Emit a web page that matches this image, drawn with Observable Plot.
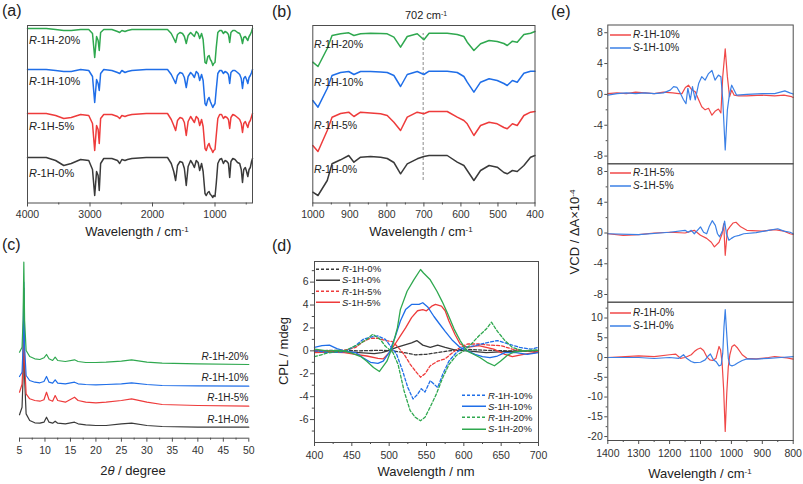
<!DOCTYPE html>
<html>
<head>
<meta charset="utf-8">
<script src="https://cdn.jsdelivr.net/npm/d3@7"></script>
<script src="https://cdn.jsdelivr.net/npm/@observablehq/plot@0.6"></script>
<style>
html,body{margin:0;padding:0;background:#fff;}
#fig{position:relative;width:803px;height:484px;overflow:hidden;font-family:"Liberation Sans",Arial,Helvetica,sans-serif;color:#222;}
#fig .t{position:absolute;white-space:nowrap;line-height:1;}
#fig sup{font-size:0.62em;position:relative;top:-0.5em;vertical-align:baseline;line-height:0;}
</style>
</head>
<body>
<div id="fig"></div>
<script>
// ================= DATA =================
// (a) FTIR, wavenumber (cm-1) and relative transmittance (a.u.)
const ftirWn = [4000,3700,3550,3420,3300,3150,3020,2960,2925,2895,2870,2852,2830,2780,2650,2560,2525,2490,2440,2400,2330,2100,1760,1700,1660,1630,1600,1560,1520,1490,1460,1430,1390,1360,1330,1300,1270,1245,1215,1190,1160,1140,1115,1095,1075,1055,1035,1020,1000,980,955,925,895,865,840,810,785,765,745,715,680,640,605,580,560,540,515,495,475,455,435,415,400];
const ftir0  = [44,44,41,36,38,42,41,32,6,30,26,11,38,43,43,41,38,42,41,42,43,44,44,38,30,21,36,40,39,33,16,35,41,38,34,41,39,31,38,30,8,6,9,10,7,6,4,6,5,18,38,42,43,38,41,40,38,24,40,43,42,39,38,32,19,32,34,30,25,32,34,40,43];
const ftir5  = [44,44,42,39,40,43,42,34,7,32,28,14,39,43,43,41,39,42,41,42,43,44,44,38,32,27,37,40,39,35,22,36,41,38,35,41,39,32,38,31,9,7,12,14,10,8,5,7,8,22,39,43,43,39,41,40,38,29,40,43,42,40,38,34,25,34,36,33,30,35,37,41,44];
const ftir10 = [44,44,43,42,42,44,43,37,11,34,30,23,40,44,43,41,40,43,41,42,43,44,44,39,34,30,38,41,40,36,26,37,41,39,36,42,40,33,39,33,10,8,14,16,12,9,6,8,10,24,40,43,43,40,42,41,39,30,41,43,43,41,39,35,25,35,37,34,30,36,38,41,44];
const ftir20 = [45,45,44,43,43,44,44,40,16,37,33,23,41,44,44,42,41,43,42,43,44,44,44,40,35,31,39,41,40,37,30,38,41,39,37,42,40,35,40,34,11,10,17,18,14,12,8,10,11,26,41,43,43,40,42,41,39,31,41,43,43,41,40,36,30,36,37,35,33,37,39,42,45];
const ftirNames = ["R-1H-0%","R-1H-5%","R-1H-10%","R-1H-20%"];
const ftirOffsets = [0,44,88,128];
const ftirTicks = [4000,3000,2000,1000];
const ftirMinor = [3500,2500,1500,500];

// (b) FTIR 1000-400 cm-1
const zWn  = [1000,986,961,948,925,903,889,871,844,817,799,781,763,745,718,700,686,637,610,592,583,565,547,524,502,484,475,461,448,430,412,400];
const z0   = [10,6.7,21.7,38.4,42.4,46.7,40,45,45.7,45,43.7,39.7,28.4,38.4,43.4,45.7,46.7,46.7,40,36.7,31.7,21.7,31.7,36.7,35,29.7,28.4,31.7,30.7,36.7,45,46.7];
const z5   = [16.7,10.7,31.7,45,48.7,50,45.7,50,49.2,48.4,46.7,40,31.7,45,50,48.4,50.7,50.7,45,41.7,38.4,26.7,36.7,40,38.4,34.7,33.4,38.4,36.7,46.7,50,50.7];
const z10  = [21.7,15,33.7,46.7,49.7,50.7,47.7,50.7,50.7,50.2,49.7,46.7,35.7,47.7,50.7,47.7,51,51,49.7,45.7,40,30,40,43.4,41.7,38.7,36.7,41.7,40,49,51,51];
const z20  = [20,15.7,33.7,46.7,48.4,49.4,46.7,48.4,49,48.7,48.4,45,35,45.7,48.4,42.4,49,49,47.7,45.7,40,31.7,38.4,41.7,40.7,38.7,36.7,41,40,47.7,49,50.7];
const zOffsets = [0,40,80,120];
const zTicks = [1000,900,800,700,600,500,400];
const zMinor = [950,850,750,650,550,450];
const markWn = 702;
const markSpan = [21.7,168.7];

// (c) PXRD
const xrd2t = [5,5.5,5.7,5.85,6.0,6.3,7,8,9,9.8,10.3,10.8,11.5,12,12.5,14,15.8,16.5,18,20,22,25,27,30,33,40,50];
const xrd0  = [23.4,31,60,150,60,24.3,17.7,15.4,15,16,21,16,15,17,15,14.4,16,14.4,13.4,12.7,12.7,14.4,15,12.7,11.7,11,11];
const xrd5  = [25,33,55,115,55,23.4,18.4,16.7,16,17.4,25,17.4,16,21.7,16.7,15,20,16.7,15,14.4,15,16.7,18.4,15,12.7,11.7,11];
const xrd10 = [20.7,25,50,115,50,21.7,16.7,15,14.4,15.7,20.7,15,14,17.4,14,13.4,15,13.4,12.7,12.4,12.7,13.4,14.4,12.7,11.7,11.4,11];
const xrd20 = [23,28,55,113,55,24.7,18.7,16.4,15.7,17.4,20.7,16.4,14.7,18,14.7,13.7,15.4,13.7,12.7,12.7,13,14,15.4,13,12,11.4,10.7];
const xrdOffsets = [0,21,41,63];
const xrdTicks = [5,10,15,20,25,30,35,40,45,50];
const xrdMinor = [7.5,12.5,17.5,22.5,27.5,32.5,37.5,42.5,47.5];

// (d) CPL (mdeg) vs wavelength (nm)
const cplWlR0 = [400,430,460,490,505,520,535,550,565,580,600,630,660,700];
const cplR0   = [0,0.05,0,0.05,0,-0.15,-0.35,-0.3,-0.15,0,0.15,0.05,0,0];
const cplWlS0 = [400,430,460,480,490,500,510,520,530,537,545,555,565,575,590,605,630,660,700];
const cplS0   = [0,-0.05,-0.15,-0.25,-0.15,0.05,0.3,0.5,0.7,0.9,0.5,0.3,0.5,0.3,0.05,0,-0.15,-0.05,0];
const cplWlR5 = [400,420,440,455,465,475,485,495,505,512,520,528,535,542,548,555,565,575,585,595,605,620,635,650,665,680,700];
const cplR5   = [0,0,0.05,0.3,0.8,1.1,1.1,0.9,0.8,0.3,-0.3,-1.15,-1.75,-2.3,-2.0,-1.3,-0.9,-0.7,-0.15,0.3,0.6,0.6,0.5,0.45,0.15,0,0];
const cplWlS5 = [400,420,440,455,470,485,492,500,508,515,522,530,538,545,550,557,562,570,575,580,588,595,605,620,640,655,665,680,700];
const cplS5   = [-0.15,-0.1,-0.15,-0.3,-0.45,-0.65,-0.7,-0.15,0.6,1.3,2.0,2.9,3.5,3.6,3.5,3.9,4.05,3.9,3.5,2.6,1.45,0.6,0.3,0.45,0.15,-0.3,-0.5,-0.3,-0.1];
const cplWlR10 = [400,420,440,455,465,475,485,495,503,510,518,525,532,538,543,548,555,565,572,580,590,600,615,630,645,660,675,690,700];
const cplR10   = [0,-0.15,-0.1,0.45,1.0,1.2,1.3,1.0,0.3,-0.3,-1.75,-3.2,-4.2,-3.8,-3.3,-3.6,-2.6,-3.2,-2.0,-0.9,-0.15,0.3,0.45,0.7,0.9,0.6,0.3,0.15,0.3];
const cplWlS10 = [400,410,420,430,440,455,465,475,485,492,500,508,515,522,530,540,545,552,560,568,575,585,595,605,615,625,635,645,655,670,685,700];
const cplS10   = [0.3,0.45,0.5,0.2,0,-0.15,-0.6,-1.0,-1.1,-0.9,-0.15,1.2,2.6,3.6,4.05,4.05,4.2,3.8,3.0,2.3,1.7,0.9,0.3,0,-0.3,-0.5,-0.6,-0.45,-0.15,-0.15,-0.3,-0.15];
const cplWlR20 = [400,420,440,460,470,478,488,495,505,512,520,528,535,542,548,555,563,572,580,590,600,610,620,630,637,645,655,665,680,700];
const cplR20   = [-0.5,-0.15,0,0.6,1.0,1.45,1.0,0.4,-0.15,-1.2,-3.5,-5.2,-5.8,-6.1,-5.8,-4.9,-3.8,-2.3,-1.2,-0.4,0,0.6,1.3,1.9,2.5,1.7,0.9,0.3,0,0.1];
const cplWlS20 = [400,417,435,448,462,470,479,487,497,504,511,515,524,533,542,546,555,564,571,578,587,595,604,613,622,631,641,649,658,667,680,700];
const cplS20   = [0.15,0,0.05,-0.15,-0.5,-0.9,-1.45,-1.8,-0.9,0.3,2.0,3.6,5.2,6.2,7.1,6.8,6.2,5.2,4.3,3.3,1.9,0.9,0,-0.3,-0.6,-1.0,-1.3,-0.9,-0.4,-0.1,0,0.05];
const cplNamesTop = ["R-1H-0%","S-1H-0%","R-1H-5%","S-1H-5%"];
const cplNamesBottom = ["R-1H-10%","S-1H-10%","R-1H-20%","S-1H-20%"];
const cplXTicks = [400,450,500,550,600,650,700];
const cplXMinor = [425,475,525,575,625,675];
const cplYTicks = [-6,-4,-2,0,2,4,6];
const cplYMinor = [-7,-5,-3,-1,1,3,5,7];

// (e) VCD (ΔA×10^-4) vs wavenumber (cm-1)
const vcdWnR10 = [1400,1370,1340,1310,1280,1250,1220,1190,1170,1160,1149,1139,1128,1117,1106,1096,1085,1074,1063,1053,1042,1034,1028,1020,1013,1006,999,991,977,950,900,860,830,805,800];
const vcdR10   = [0.1,0.2,0.1,0.3,0.2,0.1,0.3,0.2,0.1,0.1,0.9,1.2,0.6,0.35,-0.7,-1.6,-2.0,-1.8,-2.7,-2.2,-1.9,-2.4,2.3,5.9,2.3,-0.3,0.55,-0.1,-0.2,-0.2,-0.1,-0.2,-0.1,-0.3,-0.4];
const vcdWnS10 = [1400,1370,1340,1310,1280,1250,1220,1198,1187,1176,1166,1155,1147,1141,1133,1126,1117,1106,1096,1085,1074,1063,1053,1042,1034,1028,1020,1013,1006,999,991,983,950,900,860,827,811,800];
const vcdS10   = [-0.1,0.1,0.2,0.1,0.2,0.1,0.2,0.55,1.0,0.9,0.2,-0.7,-1.2,0.8,-0.7,1.0,-0.7,1.4,2.3,1.85,2.7,3.1,1.85,2.5,2.3,-0.7,-7.2,-2.0,0.1,1.2,0.55,-0.1,0,0.1,0.1,0.45,0.2,0.05];
const vcdWnR5 = [1400,1350,1300,1250,1200,1150,1120,1100,1080,1065,1055,1040,1030,1025,1020,1013,1005,995,985,970,950,900,860,830,810,800];
const vcdR5   = [-0.1,-0.3,-0.2,0,0.1,0,0.35,-0.3,-0.7,-1.2,-1.8,-1.2,-0.1,1.2,-2.9,0.35,0.8,1.3,1.4,0.8,0.35,0.25,0.45,0.25,-0.1,-0.2];
const vcdWnS5 = [1400,1300,1200,1150,1140,1130,1120,1110,1100,1090,1080,1072,1062,1052,1045,1038,1028,1022,1016,1008,1000,990,975,960,920,880,850,830,810,800];
const vcdS5   = [-0.1,-0.2,0.1,0.35,0.1,0.35,-0.1,0.35,0.8,0.1,-0.1,0.8,1.6,1.0,-0.1,-0.5,0.35,1.55,-0.1,-0.95,-0.7,-0.45,-0.3,-0.1,0.05,0.35,0.55,0.25,0.1,-0.1];
const vcdWnR0 = [1400,1300,1250,1200,1180,1165,1150,1130,1120,1110,1100,1090,1080,1070,1060,1050,1040,1035,1030,1025,1020,1015,1010,1005,998,990,980,965,950,920,880,860,820,800];
const vcdR0   = [0,0.4,0.25,0.7,0.85,-0.2,0,0.7,1.5,2.1,2.4,1.8,0.25,-0.6,-0.75,-0.2,2.8,1.9,-1.4,-8.2,-18.7,-9.0,-2.3,0.7,2.8,3.2,2.4,0.7,-0.2,-0.35,0,0.25,-0.1,-0.4];
const vcdWnS0 = [1400,1300,1250,1200,1170,1155,1145,1130,1120,1100,1085,1075,1068,1058,1050,1040,1033,1028,1024,1020,1016,1010,1005,998,990,980,965,950,920,880,840,800];
const vcdS0   = [0,0,-0.25,0,-0.2,0.7,-0.2,-1.0,-1.3,-1.2,-0.6,0.4,0.9,-0.6,-1.0,-2.1,-1.9,1.1,7.8,12.1,7.0,-0.2,-1.9,-2.1,-1.9,-1.4,-0.75,-0.35,-0.4,-0.2,0,0.25];
const vcdXTicks = [1400,1300,1200,1100,1000,900,800];
const vcdXMinor = [1350,1250,1150,1050,950,850];
const vcdYTicks = [-8,-4,0,4,8];
const vcdYMinor = [-6,-2,2,6];
const vcdYTicks0 = [-20,-15,-10,-5,0,5,10];
const vcdYMinor0 = [-17.5,-12.5,-7.5,-2.5,2.5,7.5,12.5];

// ================= STYLE / LAYOUT =================
const FONT = '"Liberation Sans", Arial, Helvetica, sans-serif';
const AX = "#4d4d4d";
const cBlack = "#3a3a3a", cRed = "#ee3b3b", cBlue = "#1f6ee8", cGreen = "#2fa84f";
const cRedE = "#f04848", cBlueE = "#3b80e6";
const fig = document.getElementById("fig");
const W = 803, H = 484;
const TICK = 10.5;

function rows(xs, ys, off = 0) { return xs.map((x, i) => ({x, y: ys[i] + off})); }
function mount(o) {
  const svg = Plot.plot(Object.assign({width: W, height: H}, o));
  svg.setAttribute("style", `position:absolute;left:0;top:0;background:transparent;overflow:visible;max-width:none;font-family:${FONT};font-size:${TICK}px;color:#333`);
  fig.appendChild(svg);
  return svg;
}
const fmt = d => String(d);
function xAxis(major, minor, pad) {
  return [
    Plot.axisX({ticks: major, tickSize: 4, tickPadding: pad, tickFormat: fmt, label: null, stroke: AX, fontSize: TICK}),
    Plot.axisX({ticks: minor, tickSize: 2, tickFormat: () => "", label: null, stroke: AX})
  ];
}
function yAxis(major, minor, size, pad) {
  return [
    Plot.axisY({ticks: major, tickSize: size, tickPadding: pad, tickFormat: fmt, label: null, stroke: AX, fontSize: TICK}),
    Plot.axisY({ticks: minor, tickSize: size * 0.55, tickFormat: () => "", label: null, stroke: AX})
  ];
}
const it = s => s.replace(/^([RS])/, "<i>$1</i>");
function txt(html, x, y, size, align = "left", rot = false) {
  const d = document.createElement("div");
  d.className = "t";
  d.innerHTML = html;
  const tx = align === "left" ? "0" : align === "right" ? "-100%" : "-50%";
  d.style.left = x + "px"; d.style.top = y + "px"; d.style.fontSize = size + "px";
  d.style.transform = `translate(${tx},-50%)` + (rot ? " rotate(-90deg)" : "");
  fig.appendChild(d);
}
function legend(x, y, color, dash, name, size, w) {
  const d = document.createElement("div");
  d.className = "t";
  d.style.left = x + "px"; d.style.top = y + "px"; d.style.fontSize = size + "px";
  d.style.transform = "translateY(-50%)"; d.style.display = "flex"; d.style.alignItems = "center";
  d.innerHTML = `<svg width="${w}" height="4" style="display:block;margin-right:2px"><line x1="0" y1="2" x2="${w}" y2="2" stroke="${color}" stroke-width="1.5"${dash ? ' stroke-dasharray="3,2"' : ""}/></svg><span>${it(name)}</span>`;
  fig.appendChild(d);
}

// ================= (a) =================
const ftirSeries = [ftir0, ftir5, ftir10, ftir20];
const ftirColors = [cBlack, cRed, cBlue, cGreen];
mount({
  marginLeft: 27, marginRight: W - 252, marginTop: 25, marginBottom: H - 202.5,
  x: {domain: [4000, 400], label: null},
  y: {domain: [-1.5, 176], axis: null, label: null},
  marks: [
    ...ftirSeries.map((ys, i) => Plot.line(rows(ftirWn, ys, ftirOffsets[i]), {x: "x", y: "y", stroke: ftirColors[i], strokeWidth: 1.5})),
    Plot.frame({stroke: AX}),
    ...xAxis(ftirTicks, ftirMinor, 4)
  ]
});

// ================= (b) =================
const zSeries = [z0, z5, z10, z20];
mount({
  marginLeft: 312.3, marginRight: W - 534.5, marginTop: 25, marginBottom: H - 202.5,
  x: {domain: [1000, 400], label: null},
  y: {domain: [-0.8, 176.7], axis: null, label: null},
  marks: [
    Plot.ruleX([{x: markWn, y1: markSpan[0], y2: markSpan[1]}], {x: "x", y1: "y1", y2: "y2", stroke: "#8a8a8a", strokeDasharray: "3,2", strokeWidth: 1}),
    ...zSeries.map((ys, i) => Plot.line(rows(zWn, ys, zOffsets[i]), {x: "x", y: "y", stroke: ftirColors[i], strokeWidth: 1.5})),
    Plot.frame({stroke: AX}),
    ...xAxis(zTicks, zMinor, 4)
  ]
});

// ================= (c) =================
const xrdSeries = [xrd0, xrd5, xrd10, xrd20];
mount({
  marginLeft: 19, marginRight: W - 248.3, marginTop: 261.7, marginBottom: H - 437.7,
  x: {domain: [5, 50], label: null},
  y: {domain: [0, 176], axis: null, label: null},
  marks: [
    ...xrdSeries.map((ys, i) => Plot.line(rows(xrd2t, ys, xrdOffsets[i]), {x: "x", y: "y", stroke: ftirColors[i], strokeWidth: 1.2})),
    Plot.ruleY([0], {stroke: AX}),
    ...xAxis(xrdTicks, xrdMinor, 4.5)
  ]
});

// ================= (d) =================
const cplSeries = [
  [cplWlR0, cplR0, cBlack, true], [cplWlS0, cplS0, cBlack, false],
  [cplWlR5, cplR5, cRed, true], [cplWlS5, cplS5, cRed, false],
  [cplWlR10, cplR10, cBlue, true], [cplWlS10, cplS10, cBlue, false],
  [cplWlR20, cplR20, cGreen, true], [cplWlS20, cplS20, cGreen, false]
];
mount({
  marginLeft: 314, marginRight: W - 538, marginTop: 261, marginBottom: H - 442,
  x: {domain: [400, 700], label: null},
  y: {domain: [-8, 7.8], label: null},
  marks: [
    ...cplSeries.map(([xs, ys, c, dash]) => Plot.line(rows(xs, ys), {x: "x", y: "y", stroke: c, strokeWidth: 1.3, strokeDasharray: dash ? "3,2" : null})),
    Plot.frame({stroke: AX}),
    ...xAxis(cplXTicks, cplXMinor, 5),
    ...yAxis(cplYTicks, cplYMinor, 4, 2)
  ]
});

// ================= (e) =================
const vcdPanels = [
  {top: 24.5, bottom: 163.3, dom: [-9, 9], yt: vcdYTicks, ym: vcdYMinor, s: [[vcdWnR10, vcdR10, cRedE], [vcdWnS10, vcdS10, cBlueE]], xaxis: false},
  {top: 163.3, bottom: 301.7, dom: [-9, 9], yt: vcdYTicks, ym: vcdYMinor, s: [[vcdWnR5, vcdR5, cRedE], [vcdWnS5, vcdS5, cBlueE]], xaxis: false},
  {top: 301.7, bottom: 440, dom: [-21, 14], yt: vcdYTicks0, ym: vcdYMinor0, s: [[vcdWnR0, vcdR0, cRedE], [vcdWnS0, vcdS0, cBlueE]], xaxis: true}
];
vcdPanels.forEach(p => {
  mount({
    marginLeft: 607.3, marginRight: W - 792.7, marginTop: p.top, marginBottom: H - p.bottom,
    x: {domain: [1400, 800], label: null, axis: p.xaxis ? undefined : null},
    y: {domain: p.dom, label: null},
    marks: [
      ...p.s.map(([xs, ys, c]) => Plot.line(rows(xs, ys), {x: "x", y: "y", stroke: c, strokeWidth: 1.2})),
      Plot.frame({stroke: AX}),
      ...(p.xaxis ? xAxis(vcdXTicks, vcdXMinor, 5) : []),
      ...yAxis(p.yt, p.ym, 3, 2)
    ]
  });
});

// ================= TEXT =================
// panel letters
txt("(a)", 2, 11, 16); txt("(b)", 272, 12, 16); txt("(c)", 2, 245, 16); txt("(d)", 272, 246, 16); txt("(e)", 551, 12, 16);
// axis titles
const wlCm = "Wavelength / cm<sup>-1</sup>";
txt(wlCm, 137, 231, 13, "center");
txt(wlCm, 421, 231, 13, "center");
txt("2<i>θ</i> / degree", 133, 469.5, 13, "center");
txt("Wavelength / nm", 426, 471, 13, "center");
txt(wlCm, 700, 473, 13, "center");
txt("CPL / mdeg", 283, 351, 13, "center", true);
txt("VCD / ΔA×10<sup>-4</sup>", 574, 232, 13, "center", true);
txt("702 cm<sup>-1</sup>", 426, 15, 11, "center");
// curve labels
const ftirLabelY = [173, 126, 81, 40];
ftirNames.forEach((n, i) => txt(it(n), 29, ftirLabelY[i], 11));
const zLabelY = [169, 125, 82, 44];
ftirNames.forEach((n, i) => txt(it(n), 314, zLabelY[i], 10.5));
const xrdLabelY = [420, 398.3, 378.3, 357.3];
ftirNames.forEach((n, i) => txt(it(n), 248.3, xrdLabelY[i], 10, "right"));
// legends (d)
const cplTopStyle = [[cBlack, true], [cBlack, false], [cRed, true], [cRed, false]];
const cplBotStyle = [[cBlue, true], [cBlue, false], [cGreen, true], [cGreen, false]];
const cplTopY = [269, 280, 291.5, 302.5], cplBotY = [395.5, 406.5, 417.5, 429];
cplNamesTop.forEach((n, i) => legend(316, cplTopY[i], cplTopStyle[i][0], cplTopStyle[i][1], n, 9.5, 24));
cplNamesBottom.forEach((n, i) => legend(462, cplBotY[i], cplBotStyle[i][0], cplBotStyle[i][1], n, 9.5, 24));
// legends (e)
const vcdLegends = [["R-1H-10%", "S-1H-10%"], ["R-1H-5%", "S-1H-5%"], ["R-1H-0%", "S-1H-0%"]];
const vcdLegY = [[35, 48.3], [173.3, 185.5], [313.3, 326]];
vcdLegends.forEach((pair, k) => pair.forEach((n, j) => legend(610, vcdLegY[k][j], j ? cBlueE : cRedE, false, n, 10, 21)));
</script>
</body>
</html>
